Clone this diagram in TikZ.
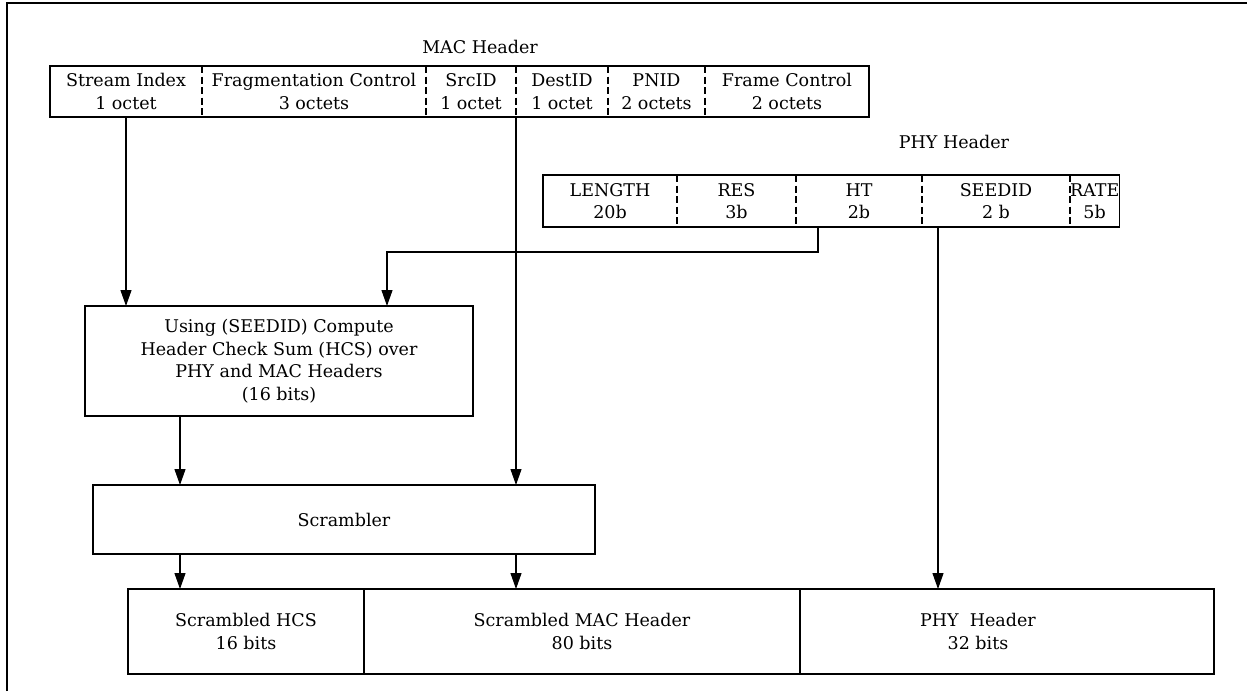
\documentclass[tikz,border=0pt]{standalone}
\usepackage{fontspec}
\setmainfont{DejaVu Serif}
\usetikzlibrary{arrows.meta,positioning}

\begin{document}
\begin{tikzpicture}[x=1pt,y=-1pt,font=\fontsize{17.5}{22.5}\selectfont]

    \tikzstyle{field} = [rectangle, inner sep=0pt, outer sep=0pt,
    align=center, minimum height=51pt]

    \tikzstyle{blk} = [draw, rectangle, inner sep=0pt, outer sep=0pt,
    align=center, line width=1.2pt]

    \tikzstyle{divider} = [line width=2pt, dash pattern=on 7pt off 3.5pt]

    \tikzstyle{arr} = [line width=1.1pt, -{Triangle[length=16pt,width=11pt]}]

    \useasboundingbox (0,0) rectangle (1247,691);
    \draw [line width=1.5pt] (7,691) -- (7,3) -- (1247,3);

    % MAC header fields
    \node (maclbl) at (480,47) {MAC Header};
    \node [field, minimum width=152pt] (si) at (126,91.5) {Stream Index\\1 octet};
    \node [field, minimum width=224pt, right=0pt of si] (fc) {Fragmentation Control\\3 octets};
    \node [field, minimum width=90pt, right=0pt of fc] (src) {SrcID\\1 octet};
    \node [field, minimum width=92pt, right=0pt of src] (dst) {DestID\\1 octet};
    \node [field, minimum width=97pt, right=0pt of dst] (pn) {PNID\\2 octets};
    \node [field, minimum width=164pt, right=0pt of pn] (fctl) {Frame Control\\2 octets};
    \draw [line width=1.2pt] (si.north west) rectangle (fctl.south east);
    \foreach \f in {si,fc,src,dst,pn}
      \draw [divider] (\f.north east) -- (\f.south east);

    % PHY header fields
    \node (phylbl) at (954,142) {PHY Header};
    \node [field, minimum height=52pt, minimum width=134pt] (len) at (610,201) {LENGTH\\20b};
    \node [field, minimum height=52pt, minimum width=119pt, right=0pt of len] (res) {RES\\3b};
    \node [field, minimum height=52pt, minimum width=126pt, right=0pt of res] (ht) {HT\\2b};
    \node [field, minimum height=52pt, minimum width=148pt, right=0pt of ht] (sd) {SEEDID\\2 b};
    \node [field, minimum height=52pt, minimum width=46pt, right=0pt of sd] (rt) {RATE\\5b};
    \draw [line width=1.2pt] (len.north west) rectangle (rt.south east);
    \foreach \f in {len,res,ht,sd}
      \draw [divider] (\f.north east) -- (\f.south east);

    % processing blocks
    \node [blk, minimum width=388pt, minimum height=110pt] (hcs) at (279,361)
      {Using (SEEDID) Compute\\Header Check Sum (HCS) over\\PHY and MAC Headers\\(16 bits)};
    \node [blk, minimum width=502pt, minimum height=69pt] (scr) at (344,519.5) {Scrambler};

    % output frame
    \node [blk, minimum width=236pt, minimum height=85pt] (shcs) at (246,631.5) {Scrambled HCS\\16 bits};
    \node [blk, minimum width=436pt, minimum height=85pt, right=0pt of shcs] (smac) {Scrambled MAC Header\\80 bits};
    \node [blk, minimum width=414pt, minimum height=85pt, right=0pt of smac,
      label={[align=center,xshift=-29pt]center:PHY~~Header\\32 bits}] (phyb) {};

    \coordinate (htout) at ([xshift=22pt]ht.south west);
    \coordinate (hcsin) at ([xshift=302pt]hcs.north west);
    \coordinate (sdout) at ([xshift=16pt]sd.south west);
    \coordinate (hcsout) at ([xshift=95pt]hcs.south west);

    \draw [arr] (si.south) -- (si.south |- hcs.north);
    \draw [arr] (src.south east) -- (src.south east |- scr.north);
    \draw [arr] (htout) -- ++(0,25) -| (hcsin);
    \draw [arr] (sdout) -- (sdout |- phyb.north);
    \draw [arr] (hcsout) -- (hcsout |- scr.north);
    \draw [arr] (hcsout |- scr.south) -- (hcsout |- shcs.north);
    \draw [arr] (src.south east |- scr.south) -- (src.south east |- smac.north);
  \end{tikzpicture}
\end{document}
